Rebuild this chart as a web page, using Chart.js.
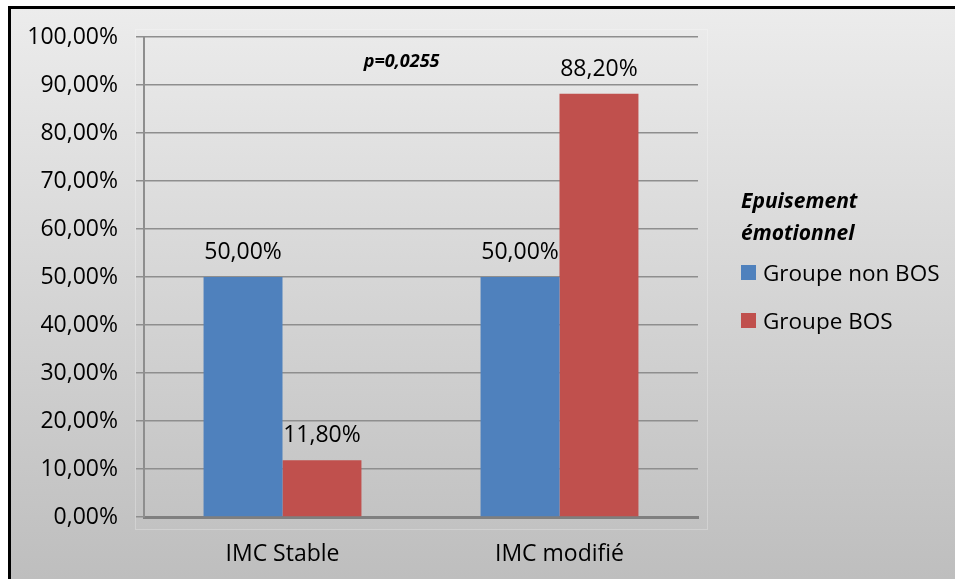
<!DOCTYPE html>
<html>
<head>
<meta charset="utf-8">
<script src="https://cdn.jsdelivr.net/npm/chart.js@4.4.0/dist/chart.umd.min.js"></script>
<style>
    html, body { margin: 0; padding: 0; background: #fff; }
    #wrap { position: relative; width: 955px; height: 579px; overflow: hidden; }
    #wrap canvas { position: absolute; left: 0; top: 0; }
    #legende { position: absolute; left: 741px; top: 184px; font-family: "Open Sans", sans-serif; color: #000; }
    #legende .titre { font-weight: bold; font-style: italic; font-size: 21px; line-height: 32px; }
    #legende .item { display: flex; align-items: center; font-size: 22.5px; height: 48px; }
    #legende .carre { width: 15px; height: 15px; margin-right: 7px; }
</style>
</head>
<body>
<div id="wrap">
    <canvas id="graphique"></canvas>
    <div id="legende"></div>
</div>
<script>
// Données
const categories = ['IMC Stable', 'IMC modifié'];
const groupeNonBos = [50.0, 50.0];
const groupeBos = [11.8, 88.2];
const titreLegende = ['Epuisement', 'émotionnel'];
const annotationP = 'p=0,0255';

const BLEU = '#4f81bd';
const ROUGE = '#c0504d';

function formatPct(v) {
    return v.toFixed(2).replace('.', ',') + '%';
}

// Fond dégradé + bordure noire (haut et gauche)
const fondPlugin = {
    id: 'fond',
    beforeDraw(chart) {
        const ctx = chart.ctx;
        const w = chart.width, h = chart.height;
        ctx.save();
        ctx.fillStyle = '#ffffff';
        ctx.fillRect(0, 0, w, h);
        const grad = ctx.createLinearGradient(0, 8, 0, h);
        grad.addColorStop(0, '#ececec');
        grad.addColorStop(1, '#bebebe');
        ctx.fillStyle = grad;
        ctx.fillRect(9, 7, w - 9, h - 7);
        ctx.fillStyle = '#000';
        ctx.fillRect(8, 6, w - 8, 3);
        ctx.fillRect(8, 6, 3, h - 6);
        // cadre clair de la zone de traçage
        const a = chart.chartArea;
        ctx.strokeStyle = 'rgba(255,255,255,0.25)';
        ctx.lineWidth = 1;
        ctx.strokeRect(a.left - 8.5, a.top - 7.5, a.right - a.left + 18, a.bottom - a.top + 20);
        ctx.restore();
    }
};

// Étiquettes de valeurs au-dessus des barres + annotation p
const etiquettesPlugin = {
    id: 'etiquettes',
    afterDatasetsDraw(chart) {
        const ctx = chart.ctx;
        ctx.save();
        ctx.fillStyle = '#000';
        ctx.textAlign = 'center';
        ctx.textBaseline = 'alphabetic';
        ctx.font = '23px "Open Sans", sans-serif';
        chart.data.datasets.forEach((ds, i) => {
            const meta = chart.getDatasetMeta(i);
            meta.data.forEach((barre, j) => {
                ctx.fillText(formatPct(ds.data[j]), barre.x, barre.y - 18);
            });
        });
        const xs = chart.scales.x, ys = chart.scales.y;
        ctx.font = 'italic bold 18px "Open Sans", sans-serif';
        ctx.textBaseline = 'middle';
        ctx.fillText(annotationP, xs.getPixelForValue(0.43), ys.getPixelForValue(94.8));
        ctx.restore();
    }
};

Chart.defaults.font.family = '"Open Sans", sans-serif';
Chart.defaults.font.size = 23;
Chart.defaults.color = '#000';

const graphique = new Chart(document.getElementById('graphique'), {
    type: 'bar',
    data: {
        labels: categories,
        datasets: [
            { label: 'Groupe non BOS', data: groupeNonBos, backgroundColor: BLEU },
            { label: 'Groupe BOS', data: groupeBos, backgroundColor: ROUGE }
        ]
    },
    options: {
        responsive: true,
        maintainAspectRatio: false,
        animation: false,
        layout: { padding: { left: 0, top: 37, right: 257, bottom: 0 } },
        datasets: { bar: { barPercentage: 1, categoryPercentage: 0.57 } },
        plugins: {
            legend: { display: false },
            tooltip: { enabled: false }
        },
        scales: {
            x: {
                grid: { display: false },
                border: { display: true, color: '#7f7f7f', width: 3 },
                ticks: { padding: 16 },
                afterFit(scale) { scale.height = 62; }
            },
            y: {
                min: 0,
                max: 100,
                ticks: { stepSize: 10, padding: 18, callback: v => formatPct(v) },
                grid: { color: '#8e8e8e', lineWidth: 1.5, tickLength: 8 },
                border: { color: '#8e8e8e', width: 2 },
                afterFit(scale) { scale.width = 144; }
            }
        }
    },
    plugins: [fondPlugin, etiquettesPlugin]
});

// Légende HTML à partir des jeux de données
const legende = document.getElementById('legende');
let html = '<div class="titre">' + titreLegende.join('<br>') + '</div>';
graphique.data.datasets.forEach(ds => {
    html += '<div class="item"><span class="carre" style="background:' + ds.backgroundColor + '"></span>' + ds.label + '</div>';
});
legende.innerHTML = html;
</script>
</body>
</html>
